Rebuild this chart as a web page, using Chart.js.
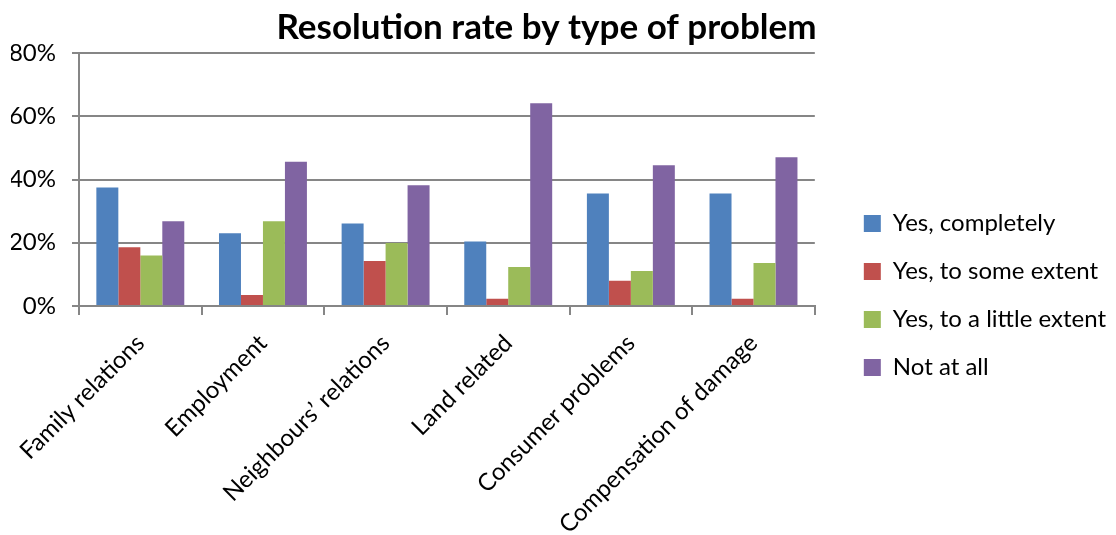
<!DOCTYPE html>
<html>
<head>
<meta charset="utf-8">
<script src="https://cdn.jsdelivr.net/npm/chart.js@4.4.0/dist/chart.umd.min.js"></script>
<style>
    body { margin:0; background:#ffffff; }
    #chartContainer { width:1116px; height:535px; }
</style>
</head>
<body>
<div id="chartContainer"><canvas id="myChart"></canvas></div>
<script>
document.addEventListener('DOMContentLoaded', createChart);

let categories = ['Family relations', 'Employment', 'Neighbours\u2019 relations', 'Land related', 'Consumer problems', 'Compensation of damage'];
let yesCompletely = [37.5, 23.0, 26.1, 20.4, 35.6, 35.6];
let yesSomeExtent = [18.6, 3.5, 14.2, 2.3, 8.0, 2.3];
let yesLittleExtent = [16.0, 26.8, 19.9, 12.3, 11.1, 13.6];
let notAtAll = [26.8, 45.6, 38.2, 64.1, 44.5, 47.0];
let yTicks = [0, 20, 40, 60, 80];

// nudges so legend / title sit where the original excel chart had them
let legendGap = 25;
let legendDrop = 28;
let titleShift = -17;

let layoutNudge = {
    id: 'layoutNudge',
    afterInit: function(chart){
        let legend = chart.legend;
        let origFit = legend.fit;
        legend.fit = function(){
            origFit.call(this);
            this.width += legendGap;
        };
    },
    afterLayout: function(chart){
        let legend = chart.legend;
        legend.left += legendGap;
        legend.right += legendGap;
        legend.top += legendDrop;
        legend.bottom += legendDrop;
        let title = chart.titleBlock;
        title.left += titleShift;
        title.right += titleShift;
    }
};

function createChart(){
    let ctx = document.getElementById('myChart');
    let fontFamily = 'Lato, "Open Sans", sans-serif';

    let data = {
        labels: categories,
        datasets: [
            { label: 'Yes, completely', data: yesCompletely, backgroundColor: '#4F81BD' },
            { label: 'Yes, to some extent', data: yesSomeExtent, backgroundColor: '#C0504D' },
            { label: 'Yes, to a little extent', data: yesLittleExtent, backgroundColor: '#9BBB59' },
            { label: 'Not at all', data: notAtAll, backgroundColor: '#8064A2' }
        ]
    };

    let config = {
        type: 'bar',
        data: data,
        plugins: [layoutNudge],
        options: {
            responsive: true,
            maintainAspectRatio: false,
            animation: false,
            categoryPercentage: 0.717,
            barPercentage: 1.0,
            layout: { padding: { left: 11, right: 0, top: 0, bottom: 0 } },
            plugins: {
                title: {
                    display: true,
                    text: 'Resolution rate by type of problem',
                    color: '#000000',
                    font: { family: fontFamily, weight: 'bold', size: 35 },
                    padding: { top: 7, bottom: 4 }
                },
                legend: {
                    display: true,
                    position: 'right',
                    labels: {
                        boxWidth: 17,
                        boxHeight: 17,
                        padding: 24,
                        color: '#000000',
                        font: { family: fontFamily, size: 24 }
                    }
                },
                tooltip: { enabled: false }
            },
            scales: {
                x: {
                    afterFit: function(scale){
                        // y axis labels already give enough room on the left
                        scale.paddingLeft = 0;
                        scale.height = 229;
                    },
                    grid: {
                        display: true,
                        drawOnChartArea: false,
                        drawTicks: true,
                        tickLength: 9,
                        color: '#868686',
                        lineWidth: 2
                    },
                    border: { display: true, color: '#868686', width: 2 },
                    ticks: {
                        minRotation: 45,
                        maxRotation: 45,
                        color: '#000000',
                        padding: 14,
                        font: { family: fontFamily, size: 24 }
                    }
                },
                y: {
                    min: 0,
                    max: 80,
                    afterBuildTicks: function(axis){
                        axis.ticks = yTicks.map(v => ({ value: v }));
                    },
                    afterFit: function(scale){
                        scale.width = 68;
                    },
                    grid: {
                        color: '#868686',
                        lineWidth: 2,
                        tickLength: 7
                    },
                    border: { display: true, color: '#868686', width: 2 },
                    ticks: {
                        color: '#000000',
                        padding: 16,
                        font: { family: fontFamily, size: 24 },
                        callback: function(value){ return value + '%'; }
                    }
                }
            }
        }
    };

    new Chart(ctx, config);
}
</script>
</body>
</html>
